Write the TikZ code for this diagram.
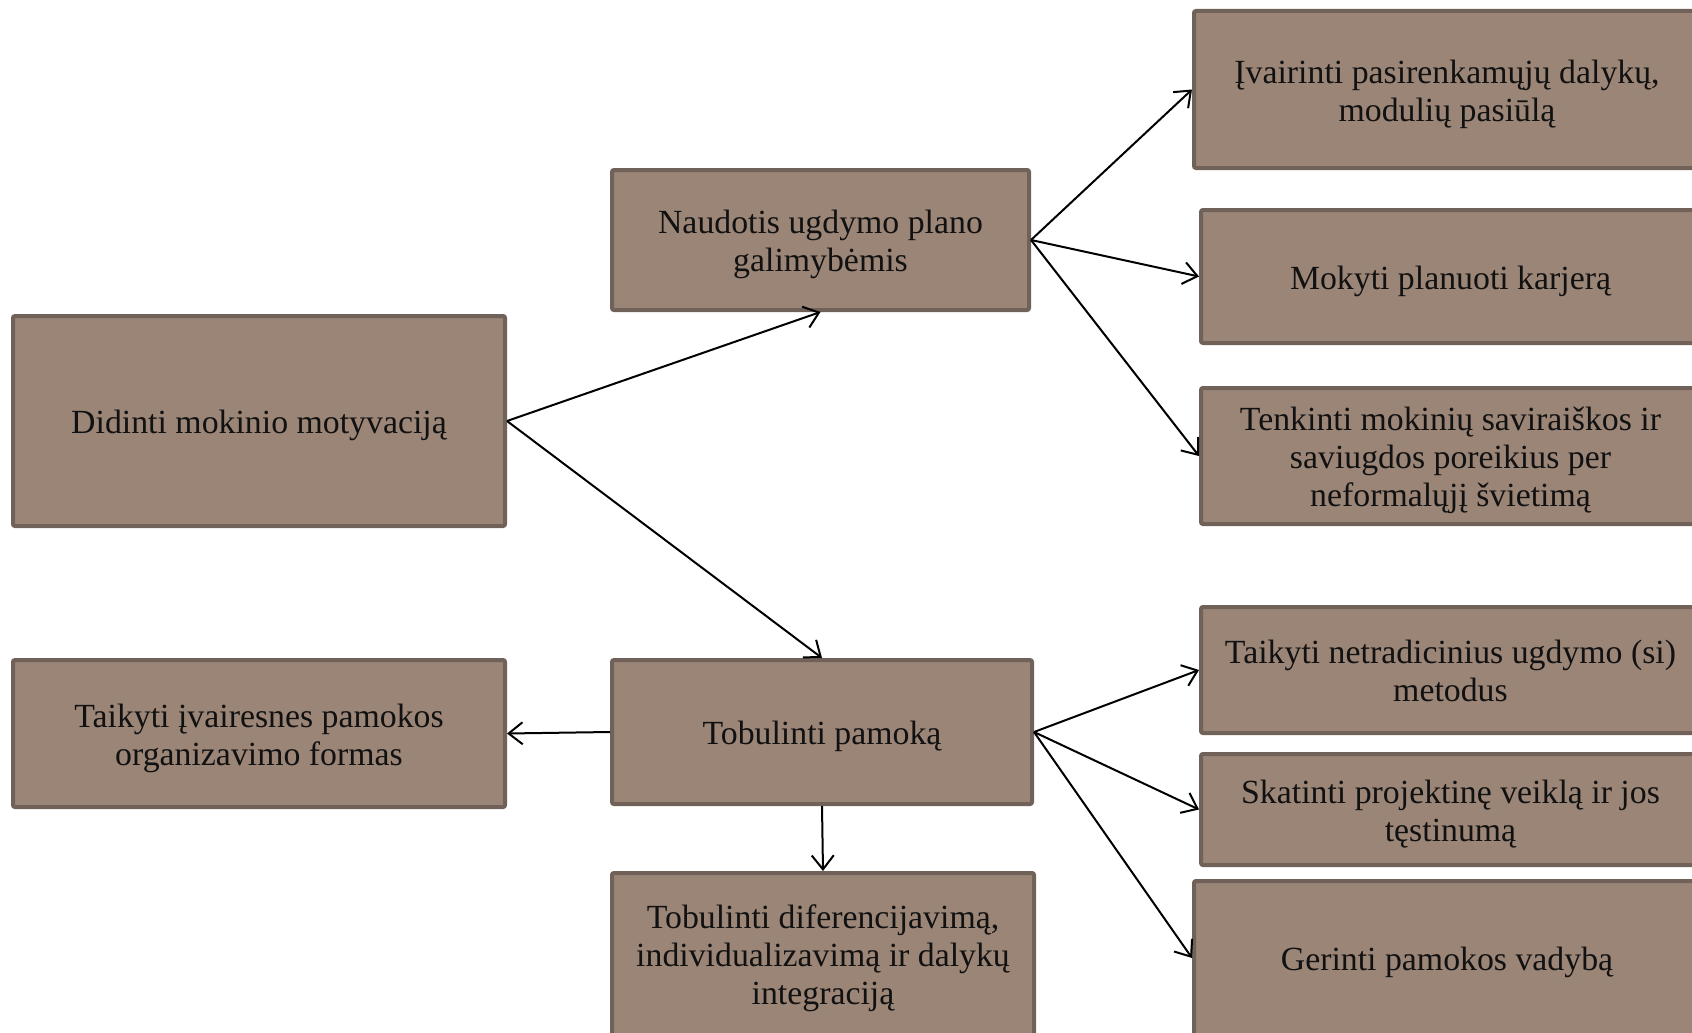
\documentclass[tikz,border=0pt]{standalone}
\usepackage{fontspec}
\setmainfont{Liberation Serif}
\usetikzlibrary{arrows.meta}
\definecolor{boxfill}{HTML}{9B8577}
\definecolor{boxline}{HTML}{706159}
\definecolor{txt}{HTML}{111111}
\newcommand{\boxtext}[1]{\raisebox{-5pt}[\height][\depth]{\begin{tabular}{@{}c@{}}#1\end{tabular}}}
\tikzset{
  box/.style={draw=boxline, fill=boxfill, line width=4pt, rounded corners=2pt,
    align=center, inner sep=0pt, text=txt, font=\fontsize{33.8}{38}\selectfont},
  conn/.style={draw=black, line width=2pt, -{Straight Barb[length=14pt,width=22pt,line width=2pt]}}
}
\begin{document}
\begin{tikzpicture}[x=1pt,y=-1pt]
\useasboundingbox (0,0) rectangle (1692,1033);
\clip (0,0) rectangle (1692,1033);
\fill[white] (0,0) rectangle (1692,1033);
\node[box, minimum width=492pt, minimum height=210pt] (a) at (259,421) {\boxtext{Didinti mokinio motyvaciją}};
\node[box, minimum width=417pt, minimum height=140pt] (b) at (820.5,240) {\boxtext{Naudotis ugdymo plano\\galimybėmis}};
\node[box, minimum width=506pt, minimum height=157pt] (c1) at (1447,89.5) {\boxtext{Įvairinti pasirenkamųjų dalykų,\\modulių pasiūlą}};
\node[box, minimum width=499pt, minimum height=133pt] (c2) at (1450.5,276.5) {\boxtext{Mokyti planuoti karjerą}};
\node[box, minimum width=499pt, minimum height=136pt] (c3) at (1450.5,456) {\boxtext{Tenkinti mokinių saviraiškos ir\\saviugdos poreikius per\\neformalųjį švietimą}};
\node[box, minimum width=420pt, minimum height=144pt] (d) at (822,732) {\boxtext{Tobulinti pamoką}};
\node[box, minimum width=492pt, minimum height=147pt] (e) at (259,733.5) {\boxtext{Taikyti įvairesnes pamokos\\organizavimo formas}};
\node[box, minimum width=422pt, minimum height=162pt] (f) at (823,954) {\boxtext{Tobulinti diferencijavimą,\\individualizavimą ir dalykų\\integraciją}};
\node[box, minimum width=499pt, minimum height=126pt] (g1) at (1450.5,670) {\boxtext{Taikyti netradicinius ugdymo (si)\\metodus}};
\node[box, minimum width=499pt, minimum height=111pt] (g2) at (1450.5,809.5) {\boxtext{Skatinti projektinę veiklą ir jos\\tęstinumą}};
\node[box, minimum width=506pt, minimum height=154pt] (g3) at (1447,958) {\boxtext{Gerinti pamokos vadybą}};
\draw[conn] (a.east) -- (b.south);
\draw[conn] (a.east) -- (d.north);
\draw[conn] (b.east) -- (c1.west);
\draw[conn] (b.east) -- (c2.west);
\draw[conn] (b.east) -- (c3.west);
\draw[conn] (d.west) -- (e.east);
\draw[conn] (d.south) -- (f.north);
\draw[conn] (d.east) -- (g1.west);
\draw[conn] (d.east) -- (g2.west);
\draw[conn] (d.east) -- (g3.west);
\end{tikzpicture}
\end{document}
